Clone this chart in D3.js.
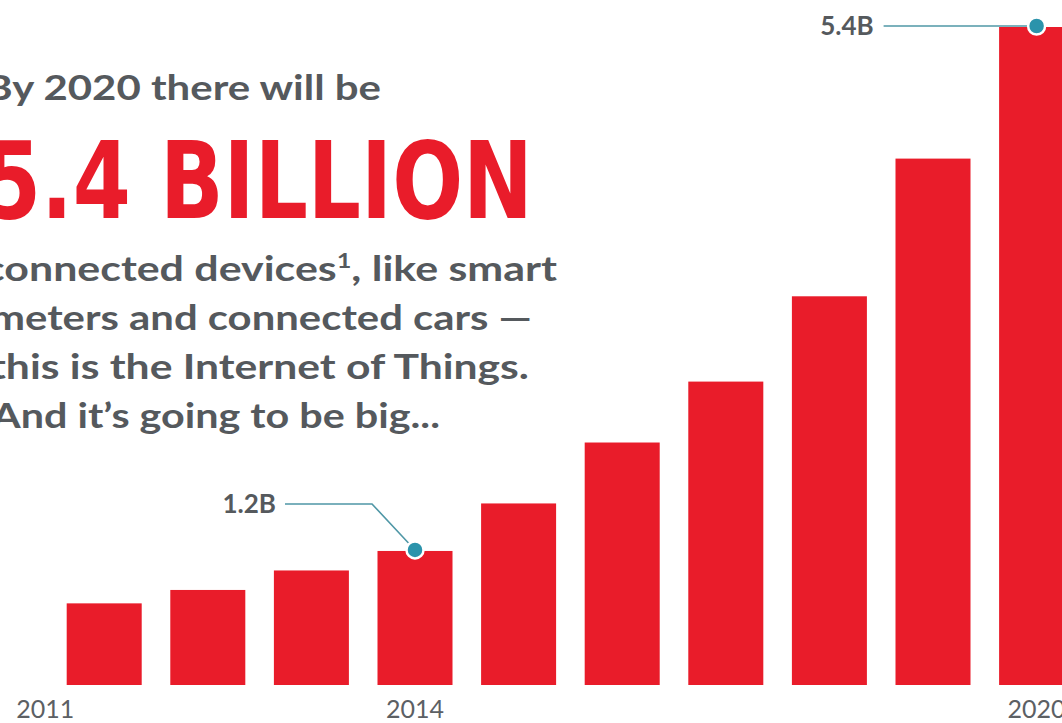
<!DOCTYPE html>
<html>
<head>
<meta charset="utf-8">
<script src="https://cdn.jsdelivr.net/npm/d3@7"></script>
<style>
  body { margin: 0; background: #fff; }
  svg { display: block; }
</style>
</head>
<body>
<script>
const width = 1062;
const height = 723;
const margin = { top: 27, bottom: 38 };

// connected devices, billions
const years = [2011, 2012, 2013, 2014, 2015, 2016, 2017, 2018, 2019, 2020];
const devices = [0.67, 0.78, 0.94, 1.10, 1.49, 1.99, 2.49, 3.19, 4.32, 5.4];
const tickYears = [2011, 2014, 2020];
const calloutYears = [2014, 2020];
const calloutLabels = ["1.2B", "5.4B"];

const headline = "By 2020 there will be";
const bigNumber = "5.4 BILLION";
const blurb = [
  "connected devices", // superscript 1 + rest added below
  "meters and connected cars —",
  "this is the Internet of Things.",
  "And it’s going to be big..."
];

const red = "#e91c2a";
const grey = "#55595d";
const teal = "#2b93ab";

const svg = d3.select("body").append("svg")
  .attr("width", width)
  .attr("height", height)
  .attr("viewBox", [0, 0, width, height]);

svg.append("rect")
  .attr("width", width)
  .attr("height", height)
  .attr("fill", "#fff");

const x = d3.scaleBand()
  .domain(years)
  .range([52.4, 1088.4])
  .paddingInner(0.276)
  .paddingOuter(0.138);

const y = d3.scaleLinear()
  .domain([0, 5.4])
  .range([height - margin.bottom, margin.top]);

// bars
svg.append("g")
  .selectAll("rect")
  .data(years)
  .join("rect")
  .attr("x", d => x(d))
  .attr("y", (d, i) => y(devices[i]))
  .attr("width", x.bandwidth())
  .attr("height", (d, i) => y(0) - y(devices[i]))
  .attr("fill", red);

// year labels
const xAxis = d3.axisBottom(x).tickValues(tickYears).tickSize(0).tickPadding(0);

const axisG = svg.append("g")
  .attr("transform", `translate(0, ${y(0)})`)
  .call(xAxis);

axisG.select(".domain").remove();
axisG.selectAll("text")
  .attr("y", 33)
  .attr("dy", null)
  .attr("font-family", "Lato, 'DejaVu Sans', sans-serif")
  .attr("font-size", 25)
  .attr("fill", "#5c6064")
  .attr("dx", d => d === 2011 ? -59 : 0);

// callouts
const callouts = svg.append("g");

calloutYears.forEach((yr, k) => {
  const i = years.indexOf(yr);
  const cx = x(yr) + x.bandwidth() / 2;
  const cy = y(devices[i]) - 1;
  let pts, lx, ly;
  if (k === 0) {
    // elbow line up and to the left
    pts = [[cx, cy], [cx - 43, cy - 46], [cx - 130, cy - 46]];
    lx = cx - 139; ly = cy - 37;
  } else {
    pts = [[cx, cy], [cx - 153, cy]];
    lx = cx - 163; ly = cy + 9;
  }
  callouts.append("path")
    .attr("d", d3.line()(pts))
    .attr("fill", "none")
    .attr("stroke", "#4f97a6")
    .attr("stroke-width", 1.6);
  callouts.append("circle")
    .attr("cx", cx)
    .attr("cy", cy)
    .attr("r", 8.5)
    .attr("fill", teal)
    .attr("stroke", "#fff")
    .attr("stroke-width", 2.5);
  callouts.append("text")
    .attr("x", lx)
    .attr("y", ly)
    .attr("text-anchor", "end")
    .attr("font-family", "Lato, 'DejaVu Sans', sans-serif")
    .attr("font-weight", 700)
    .attr("font-size", 26)
    .attr("fill", grey)
    .text(calloutLabels[k]);
});

// text block on the left (cut by the left edge like the original)
const copy = svg.append("g");

copy.append("text")
  .attr("x", -15)
  .attr("y", 100)
  .attr("textLength", 396)
  .attr("lengthAdjust", "spacingAndGlyphs")
  .attr("font-family", "Lato, 'DejaVu Sans', sans-serif")
  .attr("font-weight", 700)
  .attr("font-size", 35)
  .attr("fill", grey)
  .text(headline);

copy.append("text")
  .attr("x", -17)
  .attr("y", 218)
  .attr("textLength", 550)
  .attr("lengthAdjust", "spacingAndGlyphs")
  .attr("font-family", "'DejaVu Sans', sans-serif")
  .attr("font-stretch", "condensed")
  .attr("font-weight", 700)
  .attr("font-size", 107)
  .attr("fill", red)
  .text(bigNumber);

const lineStarts = [-16, -10, -10, -8];
const lineEnds = [557, 532, 529, 440];
const lineBase = [281, 330, 379, 428];

blurb.forEach((t, i) => {
  const txt = copy.append("text")
    .attr("x", lineStarts[i])
    .attr("y", lineBase[i])
    .attr("textLength", lineEnds[i] - lineStarts[i])
    .attr("lengthAdjust", "spacingAndGlyphs")
    .attr("font-family", "Lato, 'DejaVu Sans', sans-serif")
    .attr("font-weight", 700)
    .attr("font-size", 34)
    .attr("fill", grey);
  if (i === 0) {
    txt.append("tspan").text(t);
    txt.append("tspan")
      .attr("font-size", 20)
      .attr("dy", -13)
      .text("1");
    txt.append("tspan")
      .attr("dy", 13)
      .text(", like smart");
  } else {
    txt.text(t);
  }
});
</script>
</body>
</html>
